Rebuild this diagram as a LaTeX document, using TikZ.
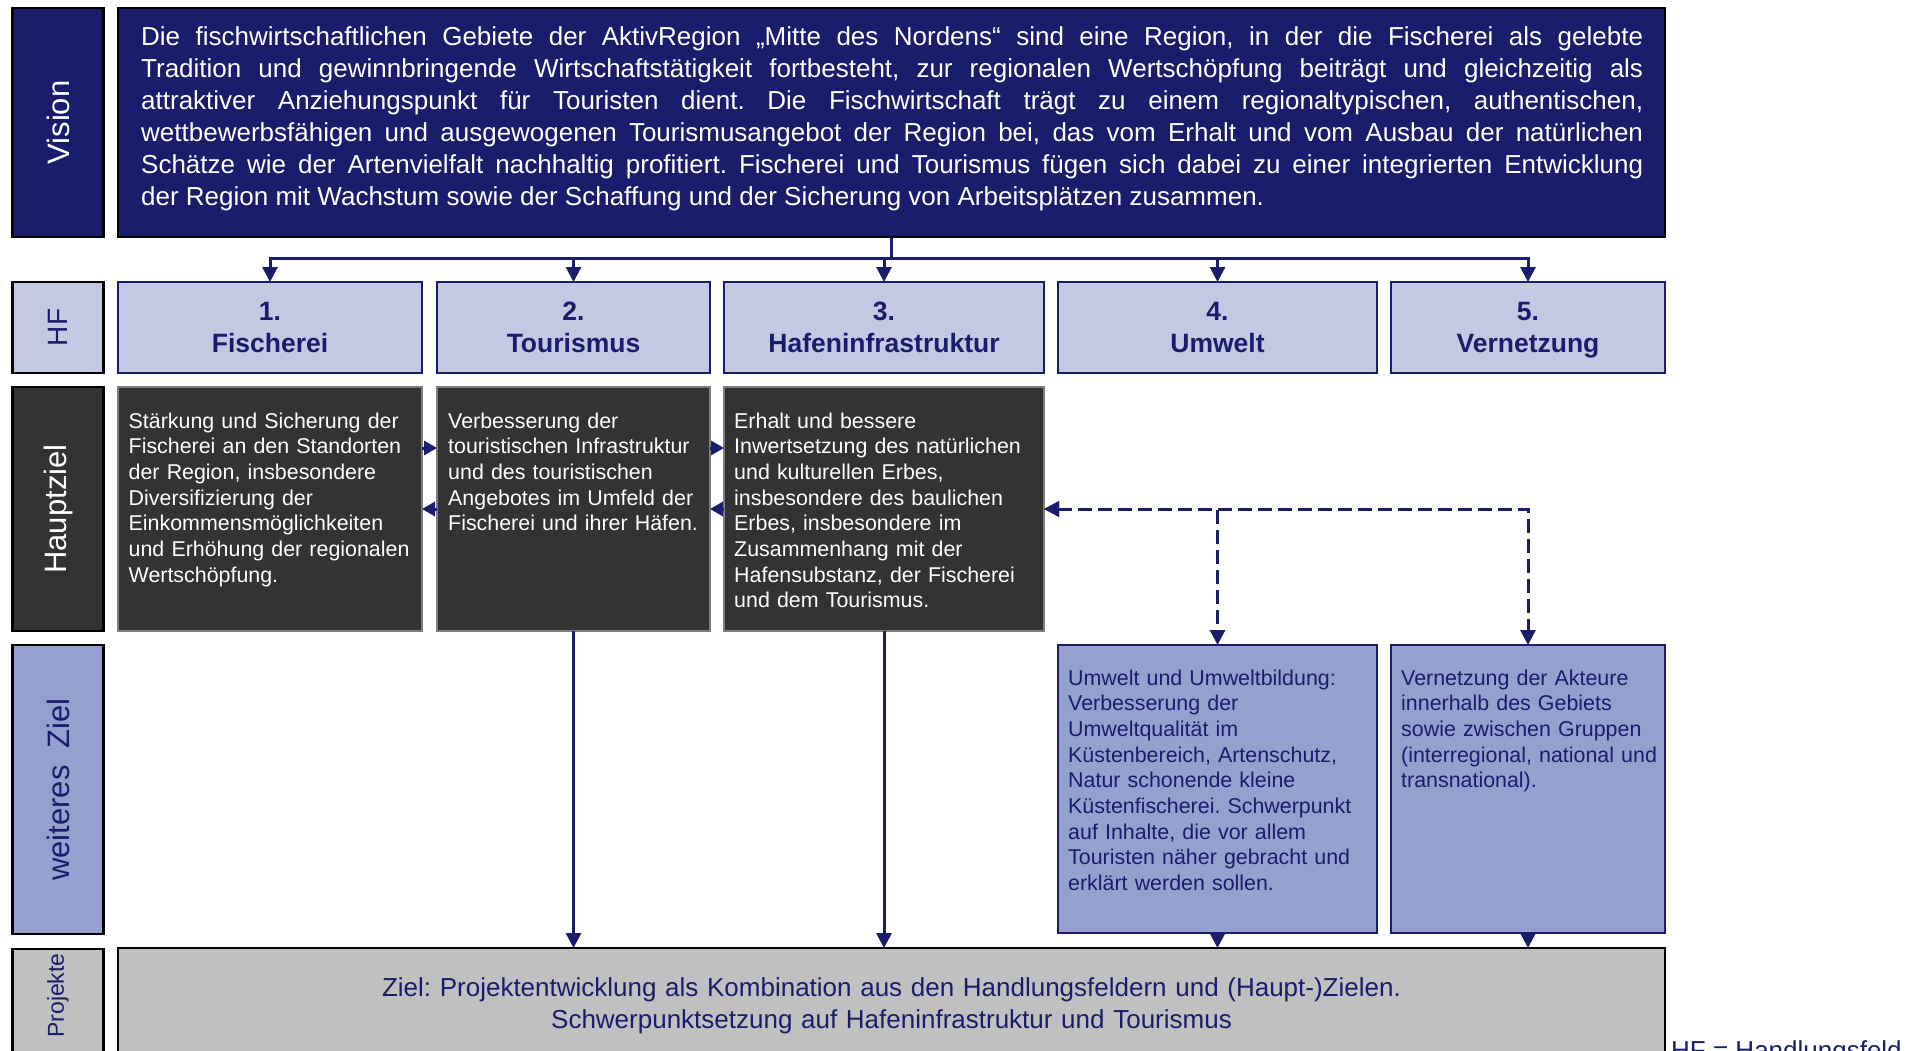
\documentclass[tikz,border=0pt]{standalone}
\usepackage{fontspec}
\setmainfont{Liberation Sans}
\usetikzlibrary{arrows.meta,calc}
\definecolor{navy}{HTML}{1A1C6C}
\definecolor{hfcol}{HTML}{C3C8E3}
\definecolor{zcol}{HTML}{94A0CE}
\definecolor{dgray}{HTML}{333333}
\definecolor{pgray}{HTML}{C0C0C0}
\definecolor{bordergray}{HTML}{7F7F7F}
\frenchspacing
\begin{document}
\frenchspacing
\begin{tikzpicture}[x=1pt,y=-1pt,
  box/.style={rectangle, anchor=north west, inner sep=0pt, outer sep=0pt},
  labbox/.style={box, draw=black, line width=2.6pt, minimum width=91pt},
  labtext/.style={rotate=90, inner sep=0pt, font=\fontsize{31}{36}\selectfont},
  hfbox/.style={box, draw=navy, line width=2pt, fill=hfcol, minimum height=91pt,
    align=center, text=navy, text depth=0pt, font=\fontsize{26.5}{32}\selectfont\bfseries},
  hzbox/.style={box, draw=bordergray, line width=1.2pt, fill=dgray, minimum height=244pt},
  zbox/.style={box, draw=navy, line width=2pt, fill=zcol, minimum height=288pt},
  bodytext/.style={anchor=base west, inner sep=0pt, text width=330pt, align=left,
    font=\fontsize{21.4}{25.7}\selectfont\frenchspacing},
  conn/.style={draw=navy, line width=3pt},
  arr/.style={conn, -{Triangle[length=15pt,width=15pt]}},
  smallarr/.style={conn, -{Triangle[length=13pt,width=14pt]}},
  dasharr/.style={conn, dash pattern=on 14pt off 6pt,
    {Triangle[length=15pt,width=15pt]}-{Triangle[length=15pt,width=15pt]}}
]
\clip (0,0) rectangle (1919,1051);
\fill[white] (0,0) rectangle (1919,1051);

% ---------- label column ----------
\node[labbox, fill=navy,  minimum height=229pt] (visL) at (12.5,8) {};
\node[labbox, fill=hfcol, minimum height=91pt]  (hfL)  at (12.5,282) {};
\node[labbox, fill=dgray, minimum height=244pt] (hzL)  at (12.5,387) {};
\node[labbox, fill=zcol,  minimum height=289pt] (zL)   at (12.5,645) {};
\node[labbox, fill=pgray, minimum height=140pt] (pL)   at (12.5,949) {};

\node[labtext, text=white] (visLT) at (visL.center) {Vision};
\node[labtext, text=navy, font=\fontsize{28}{32}\selectfont] (hfLT) at (hfL.center) {HF};
\node[labtext, text=white] (hzLT) at (hzL.center) {Hauptziel};
\node[labtext, text=navy] (zLT) at (zL.center) {weiteres\ \ Ziel};
\node[labtext, text=navy, font=\fontsize{23}{28}\selectfont] (pLT) at ([yshift=-46.5pt]pL.north) {Projekte};

% ---------- vision ----------
\node[box, fill=navy, draw=black, line width=2.6pt, minimum width=1547pt, minimum height=229pt] (vis) at (118,8) {};
\node[anchor=base west, inner sep=0pt, text width=1502pt, align=justify, text=white,
  font=\fontsize{26}{32}\selectfont\frenchspacing] (visT) at ([xshift=23pt,yshift=-38pt]vis.north west)
{\hyphenpenalty=10000\tolerance=10000 Die fischwirtschaftlichen Gebiete der AktivRegion „Mitte des Nordens“ sind eine Region, in der die Fischerei als gelebte\linebreak
Tradition und gewinnbringende Wirtschaftstätigkeit fortbesteht, zur regionalen Wertschöpfung beiträgt und gleichzeitig als\linebreak
attraktiver Anziehungspunkt für Touristen dient. Die Fischwirtschaft trägt zu einem regionaltypischen, authentischen,\linebreak
wettbewerbsfähigen und ausgewogenen Tourismusangebot der Region bei, das vom Erhalt und vom Ausbau der natürlichen\linebreak
Schätze wie der Artenvielfalt nachhaltig profitiert. Fischerei und Tourismus fügen sich dabei zu einer integrierten Entwicklung\linebreak
der Region mit Wachstum sowie der Schaffung und der Sicherung von Arbeitsplätzen zusammen.};

% ---------- Handlungsfelder ----------
\node[hfbox, minimum width=304pt] (hf1) at (118,282)  {1.\\Fischerei};
\node[hfbox, minimum width=273pt] (hf2) at (437,282)  {2.\\Tourismus};
\node[hfbox, minimum width=320pt] (hf3) at (724,282)  {3.\\Hafeninfrastruktur};
\node[hfbox, minimum width=319pt] (hf4) at (1058,282) {4.\\Umwelt};
\node[hfbox, minimum width=274pt] (hf5) at (1391,282) {5.\\Vernetzung};

% ---------- Hauptziele ----------
\node[hzbox, minimum width=304pt] (hz1) at (118,387) {};
\node[hzbox, minimum width=273pt] (hz2) at (437,387) {};
\node[hzbox, minimum width=320pt] (hz3) at (724,387) {};
\node[bodytext, text=white] (hz1T) at ([xshift=10.5pt,yshift=-41pt]hz1.north west)
{Stärkung und Sicherung der\\Fischerei an den Standorten\\der Region, insbesondere\\Diversifizierung der\\Einkommensmöglichkeiten\\und Erhöhung der regionalen\\Wertschöpfung.};
\node[bodytext, text=white] (hz2T) at ([xshift=11pt,yshift=-41pt]hz2.north west)
{Verbesserung der\\touristischen Infrastruktur\\und des touristischen\\Angebotes im Umfeld der\\Fischerei und ihrer Häfen.};
\node[bodytext, text=white] (hz3T) at ([xshift=10pt,yshift=-41pt]hz3.north west)
{Erhalt und bessere\\Inwertsetzung des natürlichen\\und kulturellen Erbes,\\insbesondere des baulichen\\Erbes, insbesondere im\\Zusammenhang mit der\\Hafensubstanz, der Fischerei\\und dem Tourismus.};

% ---------- weitere Ziele ----------
\node[zbox, minimum width=319pt] (z4) at (1058,645) {};
\node[zbox, minimum width=274pt] (z5) at (1391,645) {};
\node[bodytext, text=navy] (z4T) at ([xshift=10pt,yshift=-40pt]z4.north west)
{Umwelt und Umweltbildung:\\Verbesserung der\\Umweltqualität im\\Küstenbereich, Artenschutz,\\Natur schonende kleine\\Küstenfischerei. Schwerpunkt\\auf Inhalte, die vor allem\\Touristen näher gebracht und\\erklärt werden sollen.};
\node[bodytext, text=navy] (z5T) at ([xshift=10pt,yshift=-40pt]z5.north west)
{Vernetzung der Akteure\\innerhalb des Gebiets\\sowie zwischen Gruppen\\(interregional, national und\\transnational).};

% ---------- Projekte ----------
\node[box, fill=pgray, draw=black, line width=2.2pt, minimum width=1547pt, minimum height=140pt] (proj) at (118,948) {};
\node[anchor=base, inner sep=0pt, text width=1500pt, align=center, text=navy,
  font=\fontsize{26}{32}\selectfont\frenchspacing] (projT) at ([yshift=-48pt]proj.north)
{Ziel: Projektentwicklung als Kombination aus den Handlungsfeldern und (Haupt-)Zielen.\\Schwerpunktsetzung auf Hafeninfrastruktur und Tourismus};
\node[anchor=base west, inner sep=0pt, text=navy, font=\fontsize{26}{30}\selectfont] (legend)
  at ([xshift=6pt,yshift=-111pt]proj.north east) {HF = Handlungsfeld};

% ---------- connectors ----------
\coordinate (bus) at ($(vis.south)+(0,21)$);
\draw[conn] (vis.south) -- (bus);
\foreach \k in {1,...,5}{\draw[arr] (bus) -| (hf\k.north);}

\draw[smallarr] ([yshift=61pt]hz1.east) -- ([yshift=61pt]hz2.west);
\draw[smallarr] (hz2.west) -- (hz1.east);
\draw[smallarr] ([yshift=61pt]hz2.east) -- ([yshift=61pt]hz3.west);
\draw[smallarr] (hz3.west) -- (hz2.east);

\draw[arr] (hz2.south) -- (hz2.south |- proj.north);
\draw[arr] (hz3.south) -- (hz3.south |- proj.north);
\draw[arr] (z4.south) -- (z4.south |- proj.north);
\draw[arr] (z5.south) -- (z5.south |- proj.north);

\draw[dasharr] (hz3.east) -- (z5.north |- hz3.east) -- (z5.north);
\draw[dasharr] (hz3.east) -- (z4.north |- hz3.east) -- (z4.north);
\end{tikzpicture}
\end{document}
